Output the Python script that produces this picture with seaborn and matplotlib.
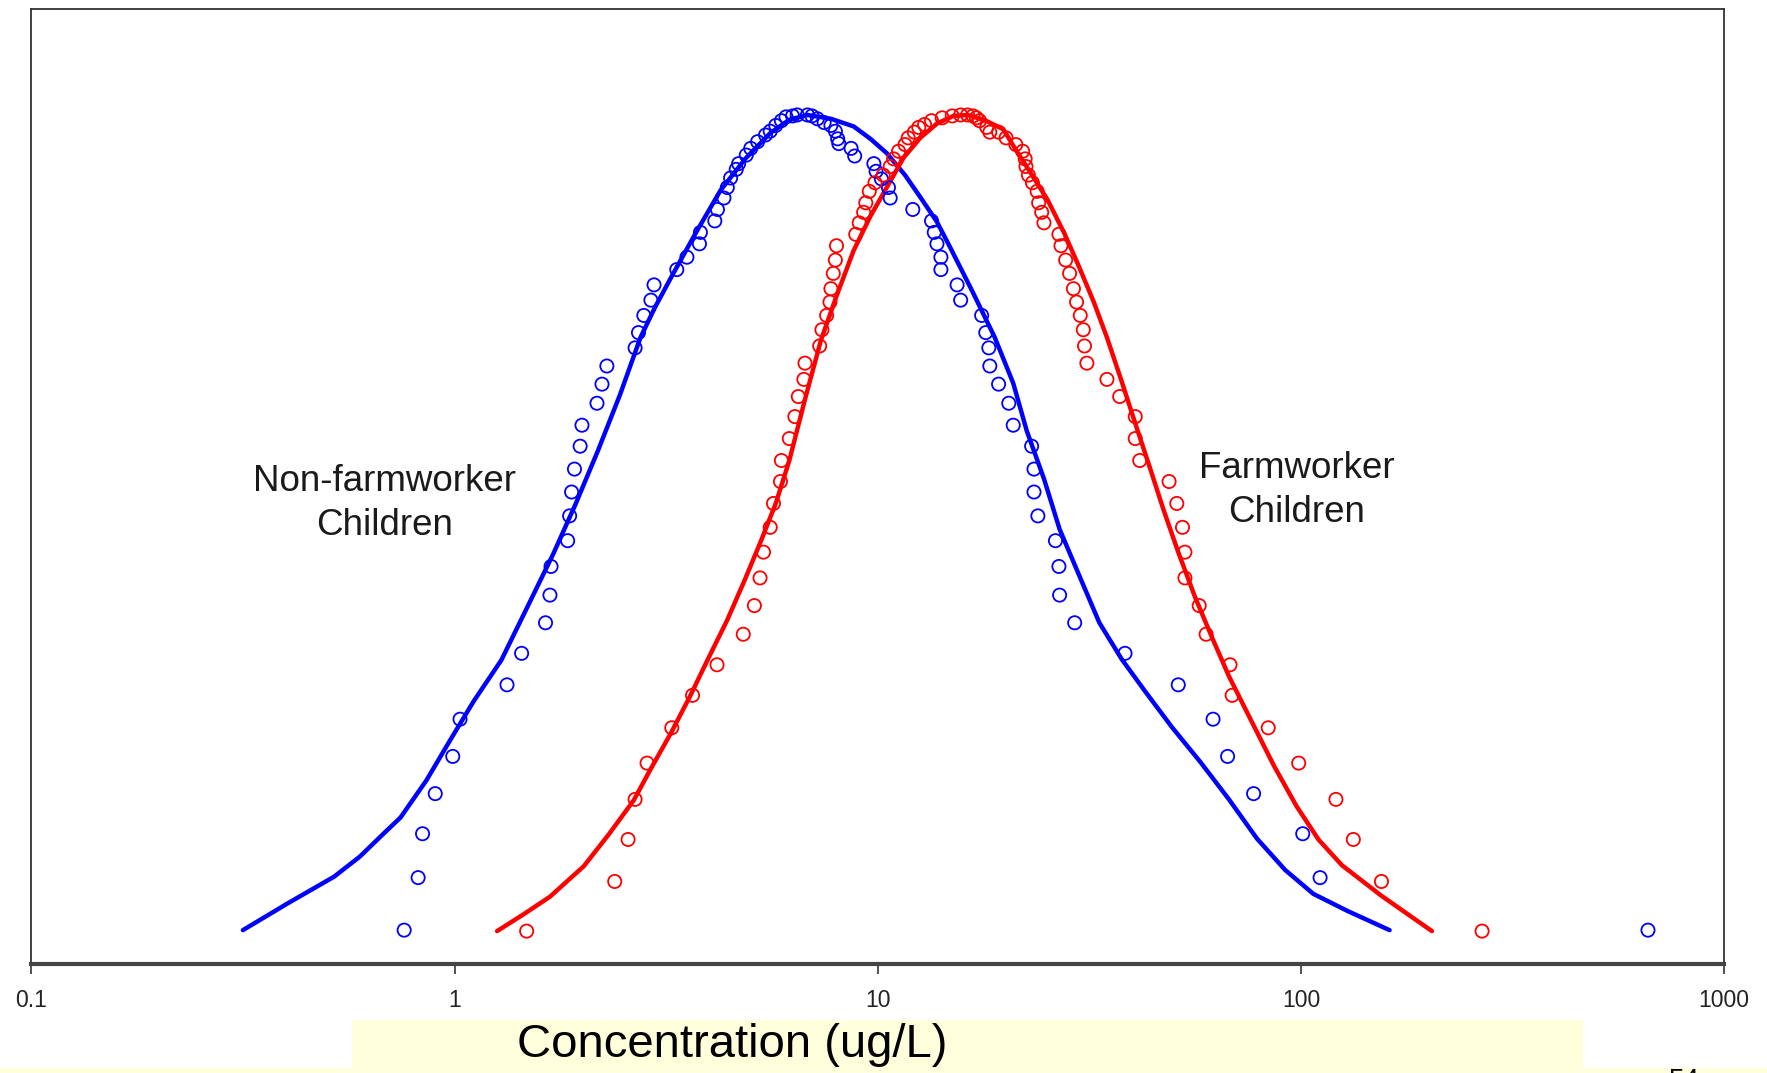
import numpy as np
import pandas as pd
import matplotlib
matplotlib.use("Agg")
import matplotlib.pyplot as plt
from matplotlib.patches import Rectangle
import seaborn as sns

# ---------------- data ----------------
# Non-farmworker children: observed points (concentration ug/L, plotting position)
blue_pts_x = [0.76, 0.82, 0.84, 0.90, 0.99, 1.03, 1.33, 1.44, 1.64, 1.68, 1.69, 1.85, 1.87, 1.89,
              1.92, 1.98, 2.00, 2.17, 2.23, 2.29, 2.67, 2.72, 2.80, 2.91, 2.96, 3.35, 3.54, 3.79,
              3.81, 4.12, 4.18, 4.33, 4.41, 4.49, 4.63, 4.69, 4.89, 5.01, 5.20, 5.43, 5.57, 5.74,
              5.92, 6.07, 6.29, 6.45,
              6.82, 6.99, 7.20, 7.47, 7.75, 7.94, 8.04, 8.09, 8.65, 8.82, 9.79, 9.91, 10.2, 10.6,
              10.7, 12.1, 13.4, 13.6, 13.8, 14.1, 14.1, 15.4, 15.7, 17.6, 18.0, 18.3, 18.4, 19.3,
              20.4, 20.9, 23.1, 23.4, 23.4, 23.9, 26.3, 26.8, 26.9, 29.2, 38.4, 51.3, 62.0, 67.1,
              77.3, 101, 111, 661]
blue_pts_y = [3.5, 9.0, 13.6, 17.8, 21.7, 25.6, 29.2, 32.5, 35.7, 38.6, 41.6, 44.3, 46.9, 49.4,
              51.8, 54.2, 56.4, 58.7, 60.7, 62.6, 64.5, 66.1, 67.9, 69.5, 71.1, 72.7, 74.0, 75.4,
              76.6, 77.8, 79.0, 80.2, 81.3, 82.3, 83.2, 83.8, 84.7, 85.4, 86.1, 86.8, 87.2, 87.8,
              88.3, 88.7, 88.8, 88.9,
              88.9, 88.8, 88.5, 88.1, 87.8, 87.2, 86.4, 85.9, 85.4, 84.6, 83.8, 83.0, 82.2, 81.3,
              80.2, 79.0, 77.8, 76.6, 75.4, 74.0, 72.7, 71.1, 69.5, 67.9, 66.1, 64.5, 62.6, 60.7,
              58.7, 56.4, 54.2, 51.8, 49.4, 46.9, 44.3, 41.6, 38.6, 35.7, 32.5, 29.2, 25.6, 21.7,
              17.8, 13.6, 9.0, 3.5]

# Farmworker children: observed points
red_pts_x = [1.48, 2.39, 2.57, 2.67, 2.85, 3.26, 3.65, 4.17, 4.81, 5.11, 5.27, 5.37, 5.57, 5.67,
             5.89, 5.92, 6.18, 6.37, 6.49, 6.69, 6.73, 7.29, 7.38, 7.57, 7.71, 7.75, 7.85, 7.94,
             7.99, 8.87, 9.04, 9.26, 9.37, 9.55, 9.85, 10.3, 10.7, 10.9, 11.2, 11.6, 11.8, 12.2,
             12.5, 12.9, 13.4, 14.2, 15.0, 15.7, 16.3, 16.8, 17.1, 17.4, 18.1, 18.4,
             19.3, 20.1, 21.2, 22.0, 22.3, 22.4, 22.7, 23.2, 23.8, 24.0, 24.4, 24.7, 26.8, 27.1,
             27.8, 28.4, 29.0, 29.5, 30.1, 30.6, 30.8, 31.2, 34.8, 37.3, 40.6, 40.6, 41.6, 48.8,
             50.9, 52.5, 53.2, 53.2, 57.5, 59.7, 68.0, 68.8, 83.7, 98.8, 121, 133, 155, 268]
red_pts_y = [3.4, 8.6, 13.0, 17.2, 21.0, 24.7, 28.1, 31.3, 34.5, 37.5, 40.4, 43.1, 45.7, 48.2,
             50.5, 52.7, 55.0, 57.3, 59.4, 61.2, 62.9, 64.7, 66.4, 67.9, 69.3, 70.7, 72.3, 73.7,
             75.2, 76.4, 77.6, 78.7, 79.7, 80.9, 81.8, 82.6, 83.5, 84.3, 85.1, 85.8, 86.5, 87.1,
             87.6, 87.9, 88.3, 88.6, 88.8, 88.9, 88.9, 88.8, 88.6, 88.3, 87.6, 87.1,
             87.1, 86.5, 85.8, 85.1, 84.3, 83.5, 82.6, 81.8, 80.9, 79.7, 78.7, 77.6, 76.4, 75.2,
             73.7, 72.3, 70.7, 69.3, 67.9, 66.4, 64.7, 62.9, 61.2, 59.4, 57.3, 55.0, 52.7, 50.5,
             48.2, 45.7, 43.1, 40.4, 37.5, 34.5, 31.3, 28.1, 24.7, 21.0, 17.2, 13.0, 8.6, 3.4]

# Fitted curves
blue_fit_x = [0.316, 0.403, 0.519, 0.597, 0.679, 0.745, 0.858, 0.976, 1.11, 1.29, 1.48, 1.71,
              1.93, 2.18, 2.46, 2.75, 2.98, 3.25, 3.71, 4.25, 4.86, 5.57, 6.18, 6.82, 7.75, 8.77,
              9.61, 10.5, 11.6, 12.6, 13.8, 14.8, 16.7, 18.9, 20.9, 22.5, 24.7, 26.9, 29.9, 33.4,
              37.7, 42.7, 49.7, 57.9, 67.6, 78.7, 91.8, 107, 129, 162]
blue_fit_y = [3.5, 6.3, 9.1, 11.2, 13.6, 15.3, 19.2, 23.4, 27.5, 31.8, 37.2, 42.9,
              48.1, 53.7, 59.6, 65.6, 68.8, 71.9, 76.5, 81.0, 84.3, 87.0, 88.4, 88.9, 88.5, 87.7,
              86.4, 84.9, 82.6, 80.3, 77.7, 75.1, 70.5, 65.6, 60.8, 55.8, 50.8, 45.5, 40.7, 35.7,
              31.9, 28.6, 24.7, 21.1, 17.2, 13.1, 9.8, 7.3, 5.5, 3.5]

red_fit_x = [1.26, 1.46, 1.68, 2.02, 2.32, 2.65, 2.90, 3.25, 3.60, 3.97, 4.41, 4.84, 5.30, 5.74,
             6.18, 6.73, 7.34, 8.00, 8.77, 9.61, 10.5, 11.5, 12.6, 13.8, 15.1, 16.3, 18.0, 19.8,
             21.1, 23.0, 25.2, 27.6, 29.9, 32.4, 34.8, 37.7, 40.8, 44.0, 47.3, 51.3, 56.2, 61.6,
             67.6, 76.4, 86.4, 97.6, 110, 125, 155, 204]
red_fit_y = [3.4, 5.2, 7.0, 10.2, 13.6, 17.1, 20.3, 24.2, 28.0, 31.9, 36.0, 40.1, 44.3, 48.2,
             52.7, 59.1, 65.3, 70.0, 74.7, 78.3, 81.3, 84.4, 86.5, 88.0, 88.8, 88.9, 88.3, 87.4,
             85.4, 82.8, 80.0, 76.5, 73.0, 69.3, 65.6, 61.0, 56.3, 51.9, 47.6, 43.1, 38.4, 34.2,
             30.1, 25.4, 20.7, 16.5, 13.0, 10.3, 7.1, 3.4]

tick_values = [0.1, 1, 10, 100, 1000]
tick_labels = ["0.1", "1", "10", "100", "1000"]
label_nonfarm = "Non-farmworker\nChildren"
label_farm = "Farmworker\nChildren"
x_title = "Concentration (ug/L)"

# ---------------- style ----------------
sns.set_style("white")
plt.rcParams['font.family'] = ['Liberation Sans', 'DejaVu Sans']

fig = plt.figure(figsize=(17.67, 10.73), dpi=100)
ax = fig.add_axes([0.0178, 0.102, 0.9579, 0.8896])

BLUE = "#0000FF"
RED = "#FF0000"

df_bfit = pd.DataFrame({"x": blue_fit_x, "y": blue_fit_y})
df_rfit = pd.DataFrame({"x": red_fit_x, "y": red_fit_y})
df_bpts = pd.DataFrame({"x": blue_pts_x, "y": blue_pts_y})
df_rpts = pd.DataFrame({"x": red_pts_x, "y": red_pts_y})

sns.lineplot(data=df_bfit, x="x", y="y", sort=False, estimator=None, color=BLUE,
             linewidth=3.2, ax=ax)
sns.lineplot(data=df_rfit, x="x", y="y", sort=False, estimator=None, color=RED,
             linewidth=3.2, ax=ax)
for ln in ax.get_lines():
    ln.set_solid_joinstyle("round")
    ln.set_solid_capstyle("round")
sns.scatterplot(data=df_bpts, x="x", y="y", ax=ax, marker="o", s=90,
                facecolors="none", edgecolor=BLUE, linewidth=1.3, zorder=3)
sns.scatterplot(data=df_rpts, x="x", y="y", ax=ax, marker="o", s=90,
                facecolors="none", edgecolor=RED, linewidth=1.3, zorder=3)

ax.set_xscale("log")
ax.set_xlim(0.1, 1000)
ax.set_ylim(0, 100)
ax.set_xticks(tick_values)
ax.set_xticklabels(tick_labels)
ax.minorticks_off()
ax.set_yticks([])
ax.set_xlabel("")
ax.set_ylabel("")
ax.tick_params(axis="x", which="major", direction="out", length=7, width=1.2,
               color="#333333", pad=11, labelsize=16.5, labelcolor="#222222",
               bottom=True)

for side in ["left", "top", "right"]:
    ax.spines[side].set_color("#333333")
    ax.spines[side].set_linewidth(1.3)
ax.spines["bottom"].set_color("#444444")
ax.spines["bottom"].set_linewidth(3.0)

ax.text(0.684, 48.2, label_nonfarm, ha="center", va="center", fontsize=26.5,
        color="#1a1a1a", linespacing=1.33, multialignment="center")
ax.text(97.6, 49.6, label_farm, ha="center", va="center", fontsize=26.5,
        color="#1a1a1a", linespacing=1.33, multialignment="center")

# x-axis title on a pale-yellow band
YELLOW = "#FFFFDC"
fig.patches.append(Rectangle((0.1992, 0.00466), 0.6967, 0.0447, transform=fig.transFigure,
                             facecolor=YELLOW, edgecolor="none", zorder=0))
fig.patches.append(Rectangle((0.0, 0.0), 1.0, 0.0047, transform=fig.transFigure,
                             facecolor=YELLOW, edgecolor="none", zorder=0))
fig.text(0.4143, 0.0261, x_title, ha="center", va="center", fontsize=34, color="black")
fig.text(0.9535, 0.0047, "54", ha="center", va="top", fontsize=20, color="black")

fig.savefig("out.png", dpi=100)
